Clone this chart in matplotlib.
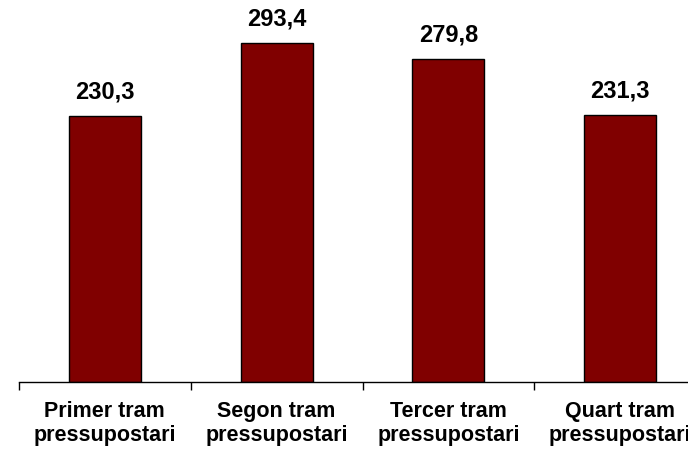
import matplotlib
matplotlib.use("Agg")
import matplotlib.pyplot as plt

categories = ["Primer tram\npressupostari", "Segon tram\npressupostari",
              "Tercer tram\npressupostari", "Quart tram\npressupostari"]
values = [230.3, 293.4, 279.8, 231.3]
value_labels = ["230,3", "293,4", "279,8", "231,3"]

plt.rcParams['font.family'] = ['Liberation Sans', 'DejaVu Sans']

fig = plt.figure(figsize=(6.88, 4.50), dpi=100)
# axes extends beyond the right edge of figure like the reference
ax = fig.add_axes([19/688, (450-382)/450, (706-19)/688, 382/450])

x = list(range(len(values)))
ax.bar(x, values, width=0.42, color="#800000", edgecolor="black", linewidth=1.0)

for xi, v, lab in zip(x, values, value_labels):
    ax.annotate(lab, (xi, v), xytext=(0, 9), textcoords="offset points",
                ha="center", va="bottom", fontsize=17, fontweight="bold")

ax.set_xlim(-0.5, len(values) - 0.5)
ax.set_ylim(0, 382/1.155)

ax.set_xticks([i + 0.5 for i in range(-1, len(values))], minor=False)
ax.set_xticklabels([])
ax.set_xticks(x, minor=True)
ax.set_xticklabels(categories, minor=True, fontsize=15.5, fontweight="bold",
                   linespacing=1.17)
ax.tick_params(axis="x", which="major", length=6, width=1, direction="out")
ax.tick_params(axis="x", which="minor", length=0, pad=14)

for s in ["top", "right", "left"]:
    ax.spines[s].set_visible(False)
ax.spines["bottom"].set_linewidth(1)
ax.set_yticks([])

fig.savefig("out.png", dpi=100)
